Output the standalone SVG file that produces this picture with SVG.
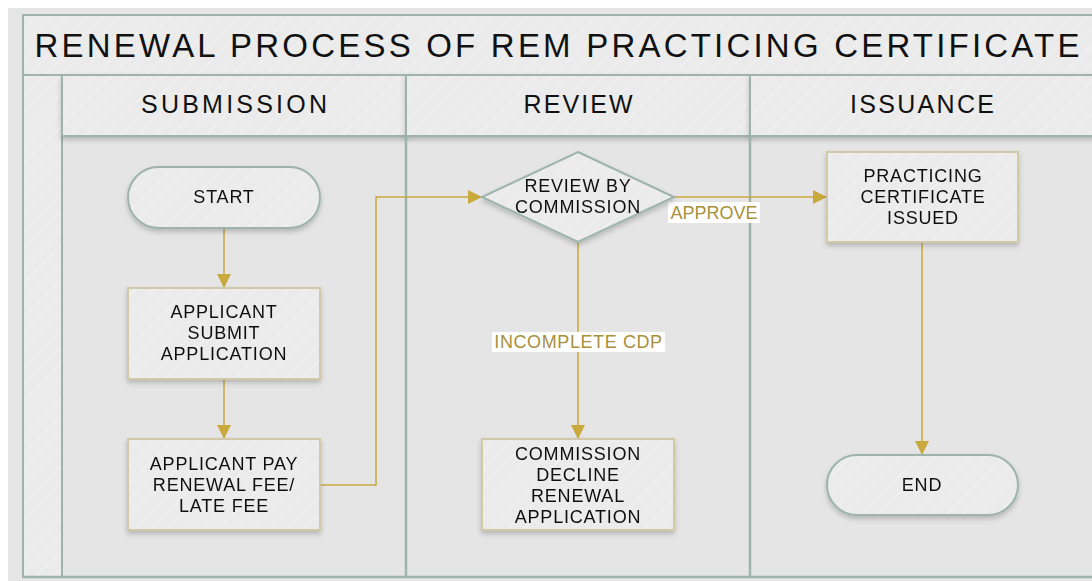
<svg xmlns="http://www.w3.org/2000/svg" width="1092" height="581" viewBox="0 0 1092 581">
<style>
.hdr{font-family:"Liberation Sans",Arial,sans-serif;fill:#111;text-anchor:middle}
.nt{font-family:"Liberation Sans",Arial,sans-serif;font-size:18px;letter-spacing:0.8px;fill:#111;text-anchor:middle}
.term{stroke:#9db3ab;stroke-width:2}
.proc{stroke:#d2c9a9;stroke-width:2}
.conn{fill:none;stroke:#c9a93c;stroke-width:1.5}
.lbl{font-family:"Liberation Sans",Arial,sans-serif;font-size:18px;fill:#a8903c;text-anchor:middle}
.band{stroke:#9db3ab;stroke-width:2}
</style>
<defs>
<pattern id="stripes" width="12" height="12" patternUnits="userSpaceOnUse" patternTransform="rotate(45)">
<rect width="12" height="12" fill="#ebebeb"/>
<line x1="0" y1="0" x2="0" y2="12" stroke="#f0f0f0" stroke-width="3"/>
</pattern>
<filter id="sh" x="-10%" y="-10%" width="120%" height="130%">
<feDropShadow dx="0" dy="3" stdDeviation="2.5" flood-color="#000" flood-opacity="0.2"/>
</filter>
<marker id="arr" markerUnits="userSpaceOnUse" markerWidth="16" markerHeight="14" refX="14" refY="7" orient="auto">
<path d="M0,0 L14,7 L0,14 Z" fill="#c9a93c"/>
</marker>
</defs>
<rect width="1092" height="581" fill="#ffffff"/>
<rect x="8" y="8" width="1084" height="573" fill="#e6e6e6"/>
<g id="pool">
<rect x="23" y="15" width="1080" height="562" fill="#e5e5e5" stroke="#9db3ab" stroke-width="2"/>
<rect class="band" x="23" y="15" width="1080" height="60" fill="url(#stripes)"/>
<rect class="band" x="23" y="75" width="39" height="502" fill="url(#stripes)"/>
<rect class="band" x="62" y="75" width="344" height="61" fill="url(#stripes)" filter="url(#sh)"/>
<rect class="band" x="406" y="75" width="344" height="61" fill="url(#stripes)" filter="url(#sh)"/>
<rect class="band" x="750" y="75" width="350" height="61" fill="url(#stripes)" filter="url(#sh)"/>
<line x1="406" y1="137" x2="406" y2="577" stroke="#9db3ab" stroke-width="2.5"/>
<line x1="750" y1="137" x2="750" y2="577" stroke="#9db3ab" stroke-width="2.5"/>
<line x1="23" y1="577" x2="1092" y2="577" stroke="#9db3ab" stroke-width="2.5"/>
<text class="hdr" x="557" y="57" font-size="33" textLength="1045" lengthAdjust="spacing">RENEWAL PROCESS OF REM PRACTICING CERTIFICATE</text>
<text class="hdr" x="234" y="113" font-size="25" textLength="186" lengthAdjust="spacing">SUBMISSION</text>
<text class="hdr" x="578" y="113" font-size="25" textLength="109" lengthAdjust="spacing">REVIEW</text>
<text class="hdr" x="922" y="113" font-size="25" textLength="144" lengthAdjust="spacing">ISSUANCE</text>
</g>
<g id="connectors">
<line class="conn" x1="224" y1="228" x2="224" y2="288" marker-end="url(#arr)"/>
<line class="conn" x1="224" y1="379" x2="224" y2="439" marker-end="url(#arr)"/>
<polyline class="conn" points="320,485 376,485 376,197 482,197" marker-end="url(#arr)"/>
<line class="conn" x1="674" y1="197" x2="827" y2="197" marker-end="url(#arr)"/>
<line class="conn" x1="578" y1="242" x2="578" y2="439" marker-end="url(#arr)"/>
<line class="conn" x1="922" y1="242" x2="922" y2="455" marker-end="url(#arr)"/>
<rect x="668" y="202" width="92" height="21" fill="#ffffff"/>
<text class="lbl" x="714" y="218.5">APPROVE</text>
<rect x="492" y="332" width="173" height="20" fill="#ffffff"/>
<text class="lbl" x="578.5" y="348" letter-spacing="0.6">INCOMPLETE CDP</text>
</g>
<g id="start" filter="url(#sh)">
<rect class="term" x="128" y="167" width="192" height="61" rx="30.5" fill="url(#stripes)"/>
<text class="nt" x="224" y="203">START</text>
</g>
<g id="submit" filter="url(#sh)">
<rect class="proc" x="128" y="288" width="192" height="91" fill="url(#stripes)"/>
<text class="nt" x="224" y="318">APPLICANT</text>
<text class="nt" x="224" y="339">SUBMIT</text>
<text class="nt" x="224" y="360">APPLICATION</text>
</g>
<g id="pay" filter="url(#sh)">
<rect class="proc" x="128" y="439" width="192" height="91" fill="url(#stripes)"/>
<text class="nt" x="224" y="470">APPLICANT PAY</text>
<text class="nt" x="224" y="491">RENEWAL FEE/</text>
<text class="nt" x="224" y="512">LATE FEE</text>
</g>
<g id="review" filter="url(#sh)">
<polygon class="term" points="578,152 674,197 578,242 482,197" fill="url(#stripes)"/>
<text class="nt" x="578" y="192">REVIEW BY</text>
<text class="nt" x="578" y="213">COMMISSION</text>
</g>
<g id="decline" filter="url(#sh)">
<rect class="proc" x="482" y="439" width="192" height="91" fill="url(#stripes)"/>
<text class="nt" x="578" y="460">COMMISSION</text>
<text class="nt" x="578" y="481">DECLINE</text>
<text class="nt" x="578" y="502">RENEWAL</text>
<text class="nt" x="578" y="523">APPLICATION</text>
</g>
<g id="issued" filter="url(#sh)">
<rect class="proc" x="827" y="152" width="191" height="90" fill="url(#stripes)"/>
<text class="nt" x="923" y="182">PRACTICING</text>
<text class="nt" x="923" y="203">CERTIFICATE</text>
<text class="nt" x="923" y="224">ISSUED</text>
</g>
<g id="end" filter="url(#sh)">
<rect class="term" x="827" y="455" width="191" height="60" rx="30" fill="url(#stripes)"/>
<text class="nt" x="922" y="491">END</text>
</g>
</svg>
